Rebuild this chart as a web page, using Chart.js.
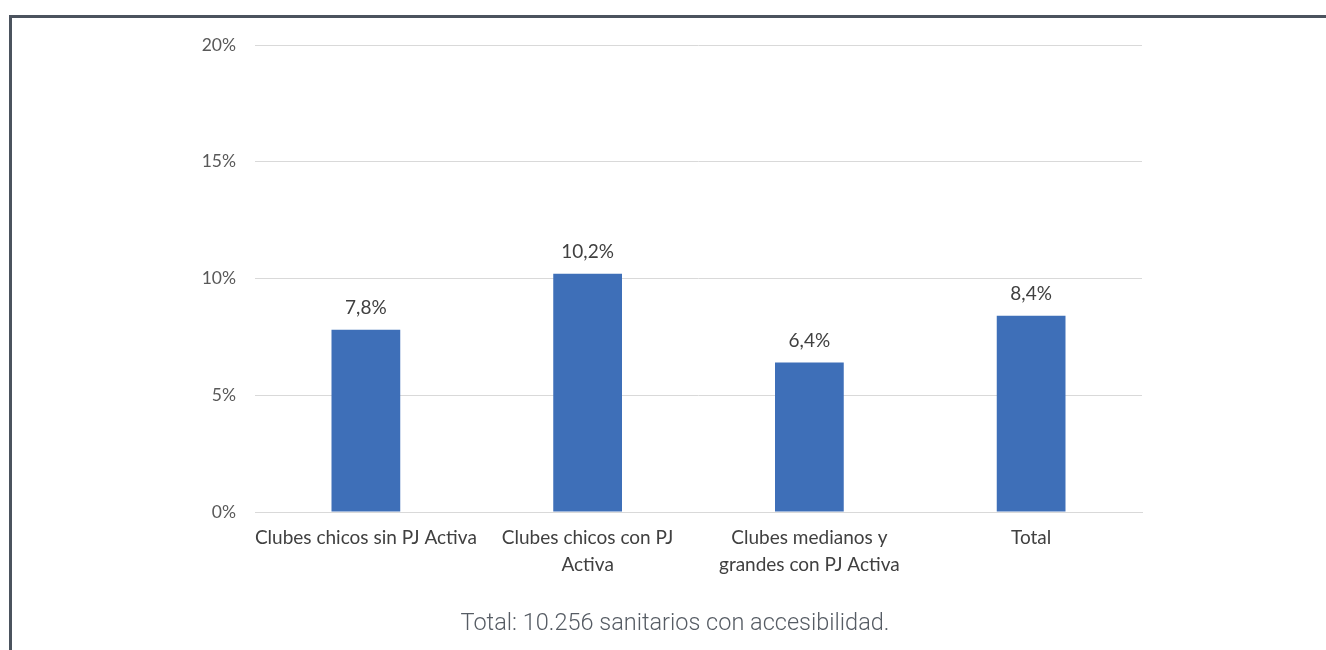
<!DOCTYPE html>
<html>
<head>
<meta charset="utf-8">
<script src="https://cdn.jsdelivr.net/npm/chart.js@4.4.0/dist/chart.umd.min.js"></script>
<style>
  html, body { margin: 0; padding: 0; background: #fff; }
  body { width: 1326px; height: 650px; position: relative; overflow: hidden; }
  #frame {
    position: absolute; left: 9px; top: 15px; width: 1330px; height: 650px;
    border-left: 3px solid #4b535e; border-top: 3px solid #4b535e;
  }
  #wrap { position: absolute; left: 0; top: 0; width: 1326px; height: 650px; }
  #caption {
    position: absolute; left: 0; top: 608px; width: 1350px; text-align: center;
    font-family: Roboto, sans-serif; font-weight: 300; font-size: 23.5px; color: #565c64;
  }
</style>
</head>
<body>
<div id="frame"></div>
<div id="wrap"><canvas id="myChart"></canvas></div>
<div id="caption">Total: 10.256 sanitarios con accesibilidad.</div>
<script>
// data
let categories = [
    ["Clubes chicos sin PJ Activa"],
    ["Clubes chicos con PJ", "Activa"],
    ["Clubes medianos y", "grandes con PJ Activa"],
    ["Total"]
];
let values = [7.8, 10.2, 6.4, 8.4];
let yTicks = [0, 5, 10, 15, 20];

let ctx = document.querySelector("#myChart");

// labels above each bar
const barLabels = {
    id: "barLabels",
    afterDatasetsDraw(chart) {
        let c = chart.ctx;
        let meta = chart.getDatasetMeta(0);
        c.save();
        c.font = "19px Lato";
        c.fillStyle = "#404040";
        c.textAlign = "center";
        c.textBaseline = "middle";
        meta.data.forEach((bar, i) => {
            let txt = values[i].toFixed(1).replace(".", ",") + "%";
            c.fillText(txt, bar.x, bar.y - 22);
        });
        c.restore();
    }
};

new Chart(ctx, {
    type: "bar",
    data: {
        labels: categories,
        datasets: [{
            data: values,
            backgroundColor: "#3e6fb8",
            barPercentage: 0.62,
            categoryPercentage: 0.5
        }]
    },
    options: {
        responsive: true,
        maintainAspectRatio: false,
        animation: false,
        layout: {
            padding: { left: 195, right: 184, top: 45, bottom: 0 }
        },
        plugins: {
            legend: { display: false },
            tooltip: { enabled: false }
        },
        scales: {
            x: {
                grid: { display: false, drawTicks: false },
                border: { color: "#d9d9d9" },
                ticks: {
                    color: "#404040",
                    padding: 12,
                    maxRotation: 0,
                    autoSkip: false,
                    font: { family: "Lato", size: 19, lineHeight: 1.42 }
                },
                afterFit: function (scale) { scale.height = 138; }
            },
            y: {
                min: 0,
                max: 20,
                afterBuildTicks: function (scale) {
                    scale.ticks = yTicks.map(v => ({ value: v }));
                },
                grid: { color: "#d9d9d9", drawTicks: false },
                border: { display: false },
                ticks: {
                    color: "#595959",
                    padding: 19,
                    font: { family: "Lato", size: 17.5 },
                    callback: v => v + "%"
                },
                afterFit: function (scale) { scale.width = 60; }
            }
        }
    },
    plugins: [barLabels]
});
</script>
</body>
</html>
